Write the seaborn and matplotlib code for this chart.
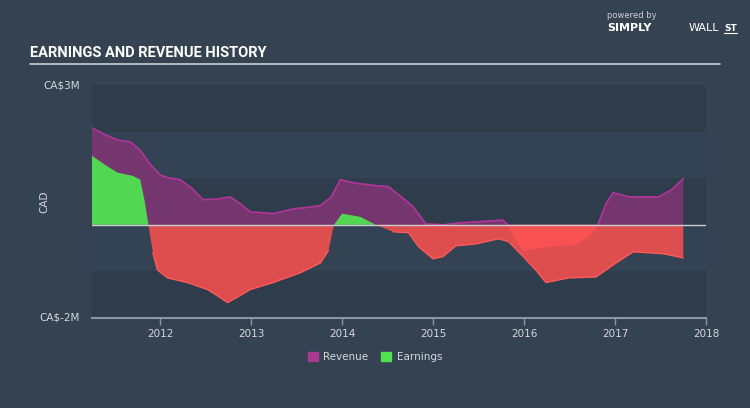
import seaborn as sns
import matplotlib.pyplot as plt
import matplotlib.patches as mpatches
import numpy as np
import pandas as pd

# values (CA$ millions, decimal years)
rev_years = [2011.25, 2011.40, 2011.53, 2011.67, 2011.78, 2011.89, 2012.00, 2012.10,
             2012.22, 2012.35, 2012.47, 2012.62, 2012.77, 2012.88, 2012.99, 2013.24,
             2013.46, 2013.76, 2013.88, 2013.98, 2014.13, 2014.37, 2014.51, 2014.65,
             2014.78, 2014.92, 2015.11, 2015.28, 2015.77, 2015.82, 2015.90, 2015.99,
             2016.27, 2016.57, 2016.71, 2016.81, 2016.90, 2016.98, 2017.15, 2017.48,
             2017.62, 2017.75]
revenue = [2.08, 1.93, 1.82, 1.78, 1.60, 1.30, 1.07, 1.00,
           0.97, 0.78, 0.54, 0.55, 0.60, 0.45, 0.28, 0.24,
           0.34, 0.41, 0.60, 0.97, 0.90, 0.84, 0.82, 0.60,
           0.39, 0.02, 0.00, 0.04, 0.10, 0.00, -0.30, -0.56,
           -0.47, -0.43, -0.26, 0.00, 0.45, 0.69, 0.60, 0.60,
           0.75, 0.99]

earn_years = [2011.25, 2011.40, 2011.53, 2011.70, 2011.78, 2011.83, 2011.87, 2011.92,
              2011.97, 2012.08, 2012.30, 2012.52, 2012.65, 2012.74, 2012.85, 2012.99,
              2013.24, 2013.54, 2013.76, 2013.85, 2013.91, 2014.00, 2014.20, 2014.37,
              2014.56, 2014.73, 2014.84, 2015.00, 2015.11, 2015.25, 2015.47, 2015.72,
              2015.83, 2015.99, 2016.12, 2016.24, 2016.49, 2016.79, 2017.01, 2017.20,
              2017.53, 2017.75]
earnings = [1.48, 1.28, 1.12, 1.05, 0.97, 0.50, 0.00, -0.60,
            -0.97, -1.14, -1.24, -1.39, -1.55, -1.67, -1.55, -1.39,
            -1.24, -1.03, -0.82, -0.55, 0.00, 0.24, 0.17, 0.00,
            -0.15, -0.17, -0.47, -0.73, -0.68, -0.45, -0.41, -0.30,
            -0.36, -0.68, -0.95, -1.24, -1.14, -1.12, -0.82, -0.58,
            -0.62, -0.71]

year_ticks = [2012, 2013, 2014, 2015, 2016, 2017, 2018]

bg = "#344251"
band_dark = "#2f3c4b"
band_light = "#344353"
purple_fill = "#7a3672"
purple_line = "#b0359a"
green = "#52d752"
red = "#e84f4f"
text_col = "#d3d8de"

sns.set_theme(style="dark")
plt.rcParams["font.family"] = ["DejaVu Sans"]

fig = plt.figure(figsize=(7.5, 4.08), dpi=100, facecolor=bg)
ax = fig.add_axes([92 / 750, 1 - 318 / 408, 614 / 750, 233 / 408])
ax.set_facecolor(bg)

# alternating horizontal bands
for i, lo in enumerate(range(-2, 3)):
    ax.axhspan(lo, lo + 1, color=band_dark if i % 2 == 0 else band_light, zorder=0, lw=0)

rev = pd.DataFrame({"year": rev_years, "value": revenue})

r = np.array(revenue)
ax.fill_between(rev_years, 0, r, where=r >= 0, color=purple_fill, alpha=0.95, lw=0, zorder=2)
ax.fill_between(rev_years, 0, r, where=r <= 0, color="#ff5252", alpha=0.85, lw=0, zorder=4)
sns.lineplot(data=rev, x="year", y="value", ax=ax, color=purple_line, lw=1.2, zorder=3)

e = np.array(earnings)
ax.fill_between(earn_years, 0, e, where=e >= 0, color=green, lw=0, zorder=3)
ax.fill_between(earn_years, 0, e, where=e <= 0, color=red, alpha=0.95, lw=0, zorder=3)
ax.plot(earn_years, np.where(e < 0, e, np.nan), color="#ff5a5a", lw=1.0, zorder=3)

ax.axhline(0, color="#c8cdd3", lw=1.0, zorder=5)

ax.set_xlim(2011.25, 2018.0)
ax.set_ylim(-2, 3)
ax.set_xlabel("")
ax.set_ylabel("")
ax.set_yticks([])
ax.set_xticks(year_ticks)
ax.set_xticklabels([str(y) for y in year_ticks], color=text_col, fontsize=7.5)
ax.tick_params(axis="x", direction="out", length=5, width=1, color="#8a97a5", pad=3, bottom=True)
for s in ["top", "right", "left"]:
    ax.spines[s].set_visible(False)
ax.spines["bottom"].set_color("#8a97a5")
ax.spines["bottom"].set_linewidth(1.5)
ax.grid(False)

fig.text(80 / 750, 1 - 85 / 408, "CA$3M", color=text_col, fontsize=7.5, ha="right", va="center")
fig.text(80 / 750, 1 - 317 / 408, "CA$-2M", color=text_col, fontsize=7.5, ha="right", va="center")
fig.text(44 / 750, 1 - 202 / 408, "CAD", color=text_col, fontsize=7.5, rotation=90, ha="center", va="center")

fig.text(30 / 750, 1 - 53 / 408, "EARNINGS AND REVENUE HISTORY", color="white", fontsize=10.5,
         fontweight="bold", family=["Liberation Sans Narrow", "Roboto", "DejaVu Sans"],
         ha="left", va="center")
fig.add_artist(plt.Line2D([30 / 750, 720 / 750], [1 - 64 / 408] * 2, color="#c9ced4", lw=1.2))

fig.text(607 / 750, 1 - 15 / 408, "powered by", color="#c9ced4", fontsize=6, ha="left", va="center")
fig.text(607 / 750, 1 - 31 / 408, "SIMPLY", color="white", fontsize=8, fontweight="bold", ha="left", va="baseline")
fig.text(689 / 750, 1 - 31 / 408, "WALL", color="white", fontsize=8, ha="left", va="baseline")
fig.text(724 / 750, 1 - 31 / 408, "ST", color="white", fontsize=6.5, fontweight="bold", ha="left", va="baseline")
fig.add_artist(plt.Line2D([724 / 750, 737 / 750], [1 - 33 / 408] * 2, color="white", lw=0.8))

handles = [mpatches.Patch(color="#a83a8f", label="Revenue"), mpatches.Patch(color="#4fe14f", label="Earnings")]
leg = fig.legend(handles=handles, loc="center", bbox_to_anchor=(0.5, 1 - 357 / 408), ncol=2, frameon=False,
                 fontsize=7.5, handlelength=1.0, handleheight=1.0, columnspacing=1.2, handletextpad=0.5)
for t in leg.get_texts():
    t.set_color(text_col)

fig.savefig("out.png", dpi=100, facecolor=bg)
